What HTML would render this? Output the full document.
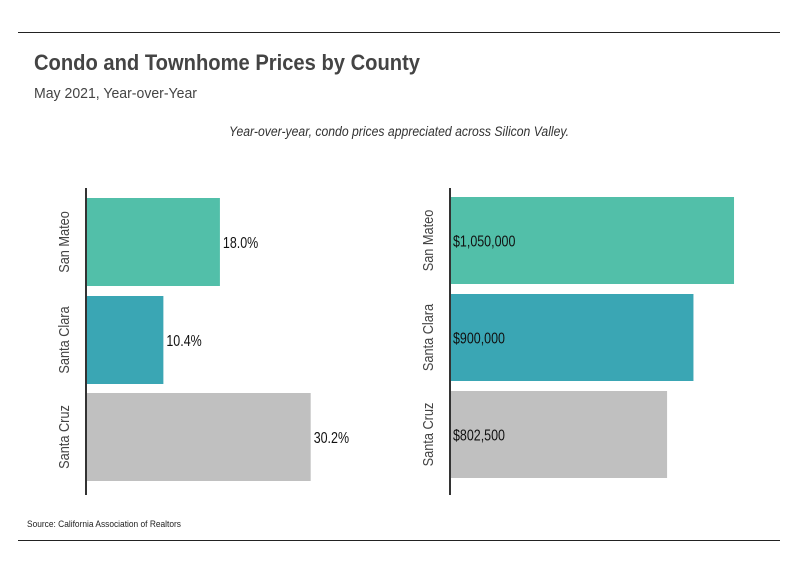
<!DOCTYPE html>
<html><head><meta charset="utf-8"><style>
body{margin:0;background:#fff;}
svg{display:block;font-family:"Liberation Sans",sans-serif;}
</style></head><body>
<svg id="c" width="799" height="575" viewBox="0 0 799 575">
<line x1="18" y1="32.5" x2="780" y2="32.5" stroke="#222"/>
<line x1="18" y1="540.5" x2="780" y2="540.5" stroke="#222"/>
<text x="34" y="70" font-size="22" font-weight="bold" fill="#444" textLength="386" lengthAdjust="spacingAndGlyphs">Condo and Townhome Prices by County</text>
<text x="34" y="98" font-size="15" fill="#444" textLength="163" lengthAdjust="spacingAndGlyphs">May 2021, Year-over-Year</text>
<text x="399" y="136" font-size="13.5" font-style="italic" fill="#333" text-anchor="middle" textLength="340" lengthAdjust="spacingAndGlyphs">Year-over-year, condo prices appreciated across Silicon Valley.</text>
<text x="27" y="527" font-size="9" fill="#222" textLength="154" lengthAdjust="spacingAndGlyphs">Source:  California Association of Realtors</text>
<g id="left"></g>
<g id="right"></g>
</svg>
<script>
const categories=["San Mateo","Santa Clara","Santa Cruz"];
const pctValues=[18.0,10.4,30.2];
const priceValues=[1050000,900000,802500];
const colors=["#52bfa9","#3aa6b4","#c0c0c0"];
const NS="http://www.w3.org/2000/svg";
function mk(tag,attrs,parent){const e=document.createElementNS(NS,tag);for(const k in attrs)e.setAttribute(k,attrs[k]);parent.appendChild(e);return e;}
function panel(g,x0,scale,vals,fmt,inside,tops,h){
  vals.forEach((v,i)=>{
    const w=scale(v);
    const r=mk('rect',{x:x0,y:tops[i],width:w,height:h,fill:colors[i]},g);
    
    
    const tx=inside?x0+3:x0+w+3;
    const t=mk('text',{x:0,y:0,'font-size':16,fill:'#111',transform:`translate(${tx},${tops[i]+h/2+6}) scale(0.78,1)`},g);
    t.textContent=fmt(v);
    
    
    const cy=tops[i]+h/2;
    const l=mk('text',{x:0,y:0,'font-size':15,fill:'#444','text-anchor':'middle',transform:`translate(${x0-17},${cy}) rotate(-90) scale(0.85,1)`},g);
    l.textContent=categories[i];
    
    
  });
  const ax=mk('line',{x1:x0,y1:188,x2:x0,y2:495,stroke:'#333','stroke-width':2},g);
  
  
}
panel(document.getElementById('left'),86,v=>v*7.44,pctValues,v=>v.toFixed(1)+'%',false,[198,296,393],88);
panel(document.getElementById('right'),450,v=>v/1e6*270.5,priceValues,v=>'$'+v.toLocaleString('en-US'),true,[197,294,391],87);
</script>
</body></html>
